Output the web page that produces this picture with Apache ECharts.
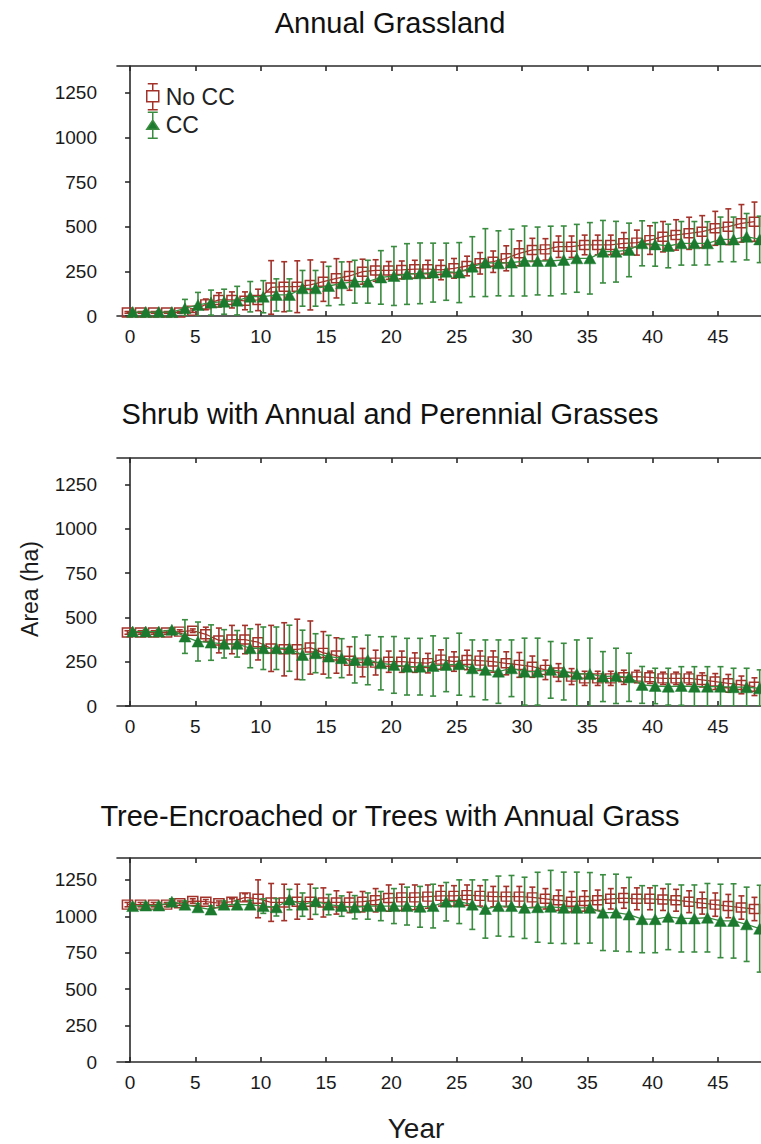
<!DOCTYPE html>
<html>
<head>
<meta charset="utf-8">
<script src="https://cdn.jsdelivr.net/npm/echarts@6/dist/echarts.min.js"></script>
<style>
  html, body { margin: 0; padding: 0; background: #fff; }
  #chart { width: 761px; height: 1144px; }
</style>
</head>
<body>
<div id="chart"></div>
<script>
// ---------------- data ----------------
const years = [0,1,2,3,4,5,6,7,8,9,10,11,12,13,14,15,16,17,18,19,20,21,22,23,24,25,26,27,28,29,30,31,32,33,34,35,36,37,38,39,40,41,42,43,44,45,46,47,48];
const xTickValues = [0,5,10,15,20,25,30,35,40,45];
const yTickValues = [0,250,500,750,1000,1250];
const panelTitles = ['Annual Grassland', 'Shrub with Annual and Perennial Grasses', 'Tree-Encroached or Trees with Annual Grass'];
const seriesNames = ['No CC', 'CC'];

// Annual Grassland
const agNoCC    = [20,20,20,20,20,30,65,90,90,85,90,160,164,164,174,192,211,224,248,255,255,258,262,262,258,267,280,295,304,323,351,370,373,388,388,398,398,398,407,411,425,444,454,463,472,491,500,519,528];
const agNoCCErr = [5,5,5,5,5,10,30,40,45,50,60,150,140,145,140,110,110,80,70,60,50,50,50,50,55,55,55,60,60,70,70,65,60,60,60,55,55,55,60,70,80,85,85,90,90,95,100,105,110];
const agCC      = [22,22,22,22,43,62,75,80,86,108,108,118,118,155,155,168,183,192,192,216,224,235,239,243,248,243,276,299,295,299,308,308,308,314,323,323,360,360,370,407,401,392,407,407,407,429,429,444,429];
const agCCErr   = [5,5,5,5,50,70,70,70,80,85,90,90,90,100,100,110,120,120,120,150,165,170,170,165,160,168,168,190,182,187,196,190,195,190,190,200,175,170,150,126,122,122,122,122,121,125,125,130,130];

// Shrub with Annual and Perennial Grasses
const shNoCC    = [415,415,415,415,420,425,405,370,375,375,360,325,320,320,330,300,285,255,245,245,250,250,245,242,262,251,260,256,251,241,232,222,204,189,166,156,156,156,162,166,162,156,156,156,147,138,128,119,109];
const shNoCCErr = [10,10,10,10,10,10,40,70,80,80,100,130,150,170,150,120,100,80,80,70,60,60,55,55,55,55,55,55,60,65,70,60,55,50,45,40,40,40,40,35,35,35,35,35,40,45,50,50,50];
const shCC      = [420,420,420,430,392,364,358,351,351,326,326,326,326,288,298,279,270,260,260,241,232,222,222,226,232,236,213,204,194,213,194,194,204,194,181,181,166,170,162,119,113,109,113,109,109,109,106,106,100];
const shCCErr   = [10,10,10,10,95,110,100,80,75,110,120,120,130,140,110,120,110,130,140,150,160,160,160,170,151,175,160,169,179,160,189,189,160,160,192,202,141,156,136,104,100,104,109,113,113,113,107,107,104];

// Tree-Encroached or Trees with Annual Grass
const trNoCC    = [1080,1080,1080,1080,1090,1105,1100,1090,1100,1130,1120,1095,1095,1100,1100,1095,1095,1095,1100,1110,1125,1130,1130,1135,1140,1140,1145,1140,1135,1135,1135,1130,1120,1110,1100,1105,1110,1120,1125,1120,1120,1115,1110,1100,1090,1080,1070,1060,1050];
const trNoCCErr = [15,15,15,15,15,15,15,15,20,25,130,130,125,120,120,100,80,70,70,80,90,90,85,80,70,70,70,70,70,70,70,70,70,70,70,70,70,70,70,75,75,75,75,75,75,80,80,80,80];
const trCC      = [1070,1074,1074,1100,1080,1062,1046,1080,1080,1080,1070,1062,1115,1080,1103,1080,1070,1062,1070,1070,1070,1070,1065,1070,1100,1100,1080,1050,1070,1070,1058,1062,1065,1058,1058,1058,1025,1025,1012,980,980,996,985,985,990,968,968,945,915];
const trCCErr   = [20,20,20,20,25,25,25,25,25,30,50,60,70,80,90,70,70,80,90,100,120,130,140,150,132,150,170,200,206,210,210,240,250,245,245,242,260,264,255,230,230,225,230,230,235,252,255,255,298];

const panels = [
  { noCC: agNoCC, noCCErr: agNoCCErr, cc: agCC, ccErr: agCCErr },
  { noCC: shNoCC, noCCErr: shNoCCErr, cc: shCC, ccErr: shCCErr },
  { noCC: trNoCC, noCCErr: trNoCCErr, cc: trCC, ccErr: trCCErr }
];

// ---------------- style / layout ----------------
const RED = '#a3322a';
const GREEN = '#3a8c40';
const GREEN_FILL = '#1b7a2e';
const AXIS = '#2a2a2a';
const TXT = '#1a1a1a';
const FONT = 'Liberation Sans, Arial, Helvetica, sans-serif';
const grids = [
  { left: 117, top: 66,  right: 0, height: 250 },
  { left: 117, top: 458, right: 0, height: 248 },
  { left: 117, top: 858, right: 0, height: 204 }
];
const titleTops = [3, 394, 796];
const X_MIN = -1, X_MAX = 48.3;
const NOCC_SHIFT = -0.2, CC_SHIFT = 0.2;

function errRender(color) {
  return function (params, api) {
    const x = api.value(0), lo = api.value(1), hi = api.value(2);
    const pt = api.coord([x, hi]);
    const pb = api.coord([x, lo]);
    const cw = 3;
    const style = { stroke: color, lineWidth: 1.6, fill: null };
    return {
      type: 'group',
      children: [
        { type: 'line', shape: { x1: pt[0], y1: pt[1], x2: pb[0], y2: pb[1] }, style },
        { type: 'line', shape: { x1: pt[0] - cw, y1: pt[1], x2: pt[0] + cw, y2: pt[1] }, style },
        { type: 'line', shape: { x1: pb[0] - cw, y1: pb[1], x2: pb[0] + cw, y2: pb[1] }, style }
      ]
    };
  };
}

const xAxes = [], yAxes = [], series = [], titles = [];
grids.forEach((g, i) => {
  const common = {
    type: 'value', gridIndex: i, min: X_MIN, max: X_MAX,
    splitLine: { show: false },
    axisLine: { show: true, onZero: false, lineStyle: { color: AXIS, width: 1.6 } },
    axisTick: { show: true, inside: true, length: 5, customValues: xTickValues, lineStyle: { color: AXIS, width: 1.6 } }
  };
  xAxes.push(Object.assign({}, common, {
    position: 'bottom',
    axisLabel: { customValues: xTickValues, fontSize: 19, color: TXT, fontFamily: FONT, margin: 11 },
    name: i === 2 ? 'Year' : '',
    nameLocation: 'middle',
    nameGap: 52,
    nameTextStyle: { fontSize: 28, color: TXT, fontFamily: FONT, padding: [0, 46, 0, 0] }
  }));
  xAxes.push(Object.assign({}, common, {
    position: 'top',
    axisLabel: { show: false }
  }));
  yAxes.push({
    type: 'value', gridIndex: i, min: 0, max: 1400,
    splitLine: { show: false },
    axisLine: { show: true, lineStyle: { color: AXIS, width: 1.6 } },
    axisTick: { show: true, inside: false, length: 5, customValues: yTickValues, lineStyle: { color: AXIS, width: 1.6 } },
    axisLabel: { customValues: yTickValues, fontSize: 19, color: TXT, fontFamily: FONT, margin: 20,
                 formatter: v => String(v) },
    name: i === 1 ? 'Area (ha)' : '',
    nameLocation: 'middle',
    nameGap: 76,
    nameTextStyle: { fontSize: 23, color: TXT, fontFamily: FONT, padding: [0, 14, 0, 0] }
  });
  titles.push({
    text: panelTitles[i], left: 385, top: titleTops[i], textAlign: 'center',
    textStyle: { fontSize: 29, fontWeight: 'normal', color: '#111', fontFamily: FONT }
  });

  const p = panels[i];
  const xi = i * 2, yi = i;
  series.push({
    name: seriesNames[0], type: 'custom', xAxisIndex: xi, yAxisIndex: yi, clip: true, z: 2,
    renderItem: errRender(RED), encode: { x: 0, y: [1, 2] },
    data: years.map((y, k) => [y + NOCC_SHIFT, Math.max(0, p.noCC[k] - p.noCCErr[k]), p.noCC[k] + p.noCCErr[k]])
  });
  series.push({
    name: seriesNames[0], type: 'line', xAxisIndex: xi, yAxisIndex: yi, z: 3,
    symbol: 'rect', symbolSize: [10, 9], showSymbol: true,
    lineStyle: { color: RED, width: 1.3 },
    itemStyle: { color: 'rgba(255,255,255,0)', borderColor: RED, borderWidth: 1.5 },
    emphasis: { disabled: true }, animation: false,
    data: years.map((y, k) => [y + NOCC_SHIFT, p.noCC[k]])
  });
  series.push({
    name: seriesNames[1], type: 'custom', xAxisIndex: xi, yAxisIndex: yi, clip: true, z: 4,
    renderItem: errRender(GREEN), encode: { x: 0, y: [1, 2] },
    data: years.map((y, k) => [y + CC_SHIFT, Math.max(0, p.cc[k] - p.ccErr[k]), p.cc[k] + p.ccErr[k]])
  });
  series.push({
    name: seriesNames[1], type: 'line', xAxisIndex: xi, yAxisIndex: yi, z: 5,
    symbol: 'triangle', symbolSize: [12, 11], showSymbol: true,
    lineStyle: { color: GREEN, width: 1.3 },
    itemStyle: { color: GREEN_FILL, borderColor: GREEN_FILL, borderWidth: 0.5 },
    emphasis: { disabled: true }, animation: false,
    data: years.map((y, k) => [y + CC_SHIFT, p.cc[k]])
  });
});

const chart = echarts.init(document.getElementById('chart'), null, { renderer: 'svg' });
chart.setOption({
  animation: false,
  backgroundColor: '#fff',
  textStyle: { fontFamily: FONT },
  title: titles,
  grid: grids,
  xAxis: xAxes,
  yAxis: yAxes,
  legend: {
    left: 146, top: 83, orient: 'vertical', padding: 0, itemGap: 1,
    itemWidth: 16, itemHeight: 26,
    textStyle: { fontSize: 23, color: '#222', fontFamily: FONT },
    selectedMode: false,
    data: [
      { name: seriesNames[0],
        icon: 'path://M3,0 L13,0 M8,0 L8,7 M2,7 L14,7 L14,18 L2,18 Z M8,18 L8,26 M3,26 L13,26',
        itemStyle: { color: 'rgba(255,255,255,0)', borderColor: RED, borderWidth: 1.5 } },
      { name: seriesNames[1],
        icon: 'path://M3,0 L13,0 M8,0 L8,8 L14,17 L2,17 L8,8 Z M8,17 L8,26 M3,26 L13,26',
        itemStyle: { color: GREEN_FILL, borderColor: GREEN, borderWidth: 1.5 } }
    ]
  },
  series: series
});
</script>
</body>
</html>
